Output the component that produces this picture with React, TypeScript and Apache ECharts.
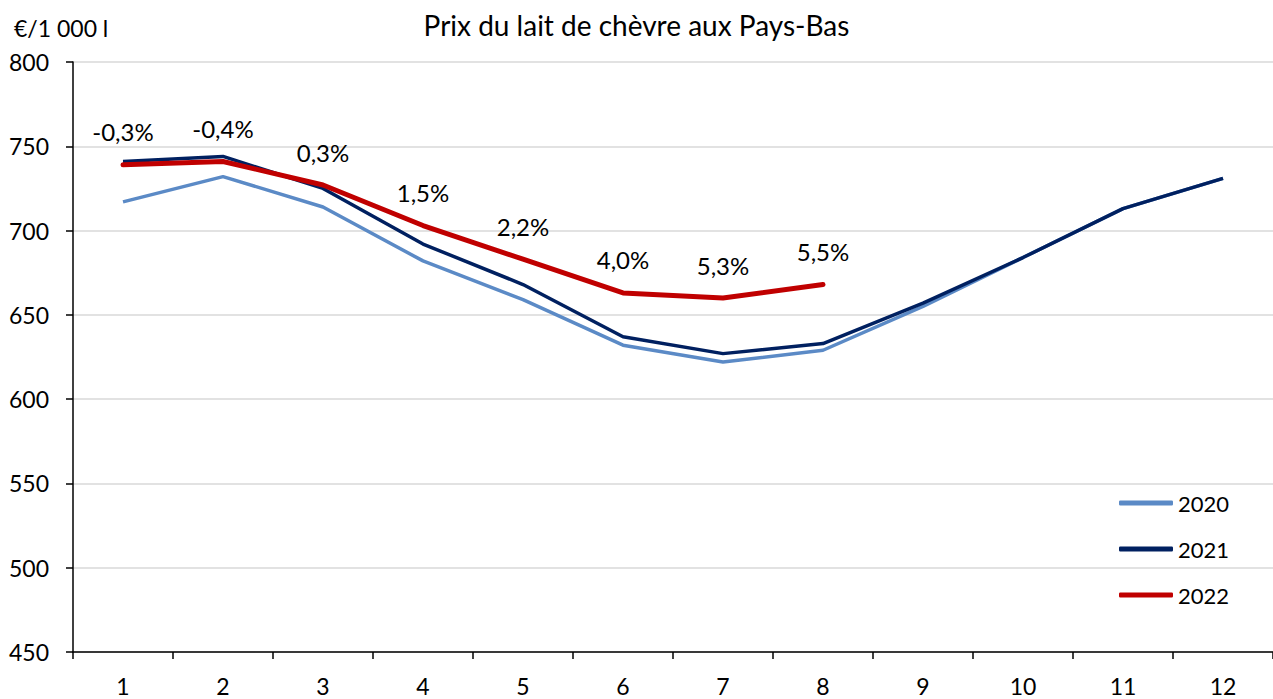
import React, { useEffect, useRef } from "react";
import * as echarts from "echarts";

const months = ["1", "2", "3", "4", "5", "6", "7", "8", "9", "10", "11", "12"];
const prix2020 = [717, 732, 714, 682, 659, 632, 622, 629, 655, 684, 713, 731];
const prix2021 = [741, 744, 725, 692, 668, 637, 627, 633, 657, 684, 713, 731];
const prix2022 = [739, 741, 727, 703, 683, 663, 660, 668];
const variation2022 = ["-0,3%", "-0,4%", "0,3%", "1,5%", "2,2%", "4,0%", "5,3%", "5,5%"];

const FONT = "Lato, 'Open Sans', sans-serif";

export default function App() {
  const ref = useRef<HTMLDivElement>(null);
  useEffect(() => {
    if (!ref.current) return;
    const chart = echarts.init(ref.current, null, { renderer: "svg" });
    chart.setOption({
      animation: false,
      backgroundColor: "#ffffff",
      textStyle: { fontFamily: FONT },
      title: [
        {
          text: "Prix du lait de chèvre aux Pays-Bas",
          left: "center",
          top: 6,
          textStyle: { fontFamily: FONT, fontSize: 28, fontWeight: "normal", color: "#000" },
        },
        {
          text: "€/1 000 l",
          left: 9,
          top: 11,
          textStyle: { fontFamily: FONT, fontSize: 23, fontWeight: "normal", color: "#000" },
        },
      ],
      grid: { left: 73, top: 62, right: -7, bottom: 47, containLabel: false },
      legend: {
        orient: "vertical",
        left: 1119,
        top: 491,
        padding: 0,
        itemWidth: 54,
        itemHeight: 5,
        itemGap: 22,
        icon: "roundRect",
        textStyle: { fontFamily: FONT, fontSize: 22, color: "#000", lineHeight: 24 },
        data: ["2020", "2021", "2022"],
      },
      xAxis: {
        type: "category",
        data: months,
        boundaryGap: true,
        axisLine: { show: true, lineStyle: { color: "#000", width: 1.5 } },
        axisTick: { show: true, alignWithLabel: false, length: 7, lineStyle: { color: "#000", width: 1.5 } },
        axisLabel: { color: "#000", fontSize: 23, fontFamily: FONT, margin: 22 },
        splitLine: { show: false },
      },
      yAxis: {
        type: "value",
        min: 450,
        max: 800,
        interval: 50,
        axisLine: { show: true, lineStyle: { color: "#000", width: 1.5 } },
        axisTick: { show: true, inside: false, length: 7, lineStyle: { color: "#000", width: 1.5 } },
        axisLabel: { color: "#000", fontSize: 23, fontFamily: FONT, margin: 24 },
        splitLine: { show: true, lineStyle: { color: "#d9d9d9", width: 1.5 } },
      },
      series: [
        {
          name: "2020",
          type: "line",
          data: prix2020,
          symbol: "none",
          lineStyle: { color: "#5b8ac6", width: 3.5 },
          itemStyle: { color: "#5b8ac6" },
          z: 2,
        },
        {
          name: "2021",
          type: "line",
          data: prix2021,
          symbol: "none",
          lineStyle: { color: "#002060", width: 3.5 },
          itemStyle: { color: "#002060" },
          z: 3,
        },
        {
          name: "2022",
          type: "line",
          data: prix2022,
          symbol: "circle",
          showSymbol: true,
          symbolSize: 0,
          lineStyle: { color: "#c00000", width: 5, cap: "round" },
          itemStyle: { color: "#c00000" },
          z: 4,
          label: {
            show: true,
            position: "top",
            distance: 21,
            color: "#000",
            fontSize: 24,
            fontFamily: FONT,
            formatter: (p: any) => variation2022[p.dataIndex],
          },
        },
      ],
    });
    return () => chart.dispose();
  }, []);
  return (
    <div
      ref={ref}
      style={{ position: "fixed", left: 0, top: 0, width: 1273, height: 699, background: "#fff" }}
    />
  );
}
